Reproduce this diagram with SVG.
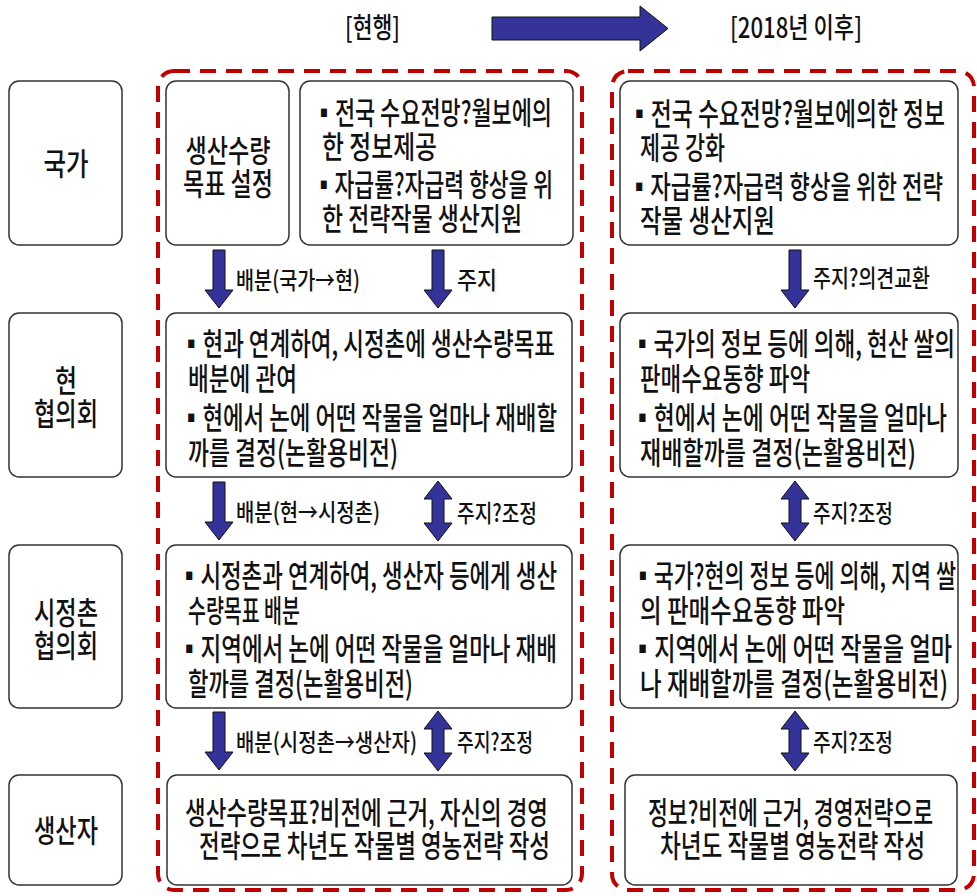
<svg xmlns="http://www.w3.org/2000/svg" width="977" height="896" viewBox="0 0 977 896">
<style>
text{font-family:"Noto Sans CJK KR","Noto Sans",sans-serif;fill:#111;font-weight:500}
.b{fill:#fff;stroke:#333;stroke-width:1.5}
.t{font-size:31px}
.lb{font-size:31px;text-anchor:middle}
.al{font-size:24px}
.ti{font-size:28px}
.grp{fill:none;stroke:#c00000;stroke-width:4;stroke-dasharray:16 10}
.ar{fill:#333399;stroke:#111;stroke-width:1}
</style>
<rect width="977" height="896" fill="#fff"/>
<g id="titles">
<text class="ti" x="345" y="38" textLength="55" lengthAdjust="spacingAndGlyphs">[현행]</text>
<text class="ti" x="730" y="38" textLength="132" lengthAdjust="spacingAndGlyphs">[2018년 이후]</text>
<path class="ar" d="M492 17 H640 V6 L668 28.5 L640 51 V40 H492 Z"/>
</g>
<rect class="grp" x="158" y="71" width="424" height="819" rx="16"/>
<rect class="grp" x="612" y="71" width="362" height="819" rx="16"/>
<g id="label-nation"><rect class="b" x="9" y="81" width="113" height="164" rx="10"/><text class="lb" x="66" y="175" textLength="45" lengthAdjust="spacingAndGlyphs">국가</text></g>
<g id="label-prefecture"><rect class="b" x="9" y="313" width="113" height="164" rx="10"/><text class="lb" x="66" y="392" textLength="22" lengthAdjust="spacingAndGlyphs">현</text><text class="lb" x="66" y="425" textLength="64" lengthAdjust="spacingAndGlyphs">협의회</text></g>
<g id="label-municipal"><rect class="b" x="9" y="545" width="113" height="163" rx="10"/><text class="lb" x="66" y="624" textLength="64" lengthAdjust="spacingAndGlyphs">시정촌</text><text class="lb" x="66" y="657" textLength="64" lengthAdjust="spacingAndGlyphs">협의회</text></g>
<g id="label-producer"><rect class="b" x="9" y="775" width="113" height="110" rx="10"/><text class="lb" x="66" y="842" textLength="64" lengthAdjust="spacingAndGlyphs">생산자</text></g>
<g id="target"><rect class="b" x="166" y="81" width="123" height="164" rx="10"/><text class="lb" x="228" y="162" textLength="85" lengthAdjust="spacingAndGlyphs">생산수량</text><text class="lb" x="228" y="195" textLength="90" lengthAdjust="spacingAndGlyphs">목표 설정</text></g>
<g id="nation-now"><rect class="b" x="300" y="81" width="273" height="164" rx="10"/>
<text class="t" x="313" y="124" textLength="239" lengthAdjust="spacingAndGlyphs">▪전국 수요전망?월보에의</text>
<text class="t" x="322" y="158" textLength="115" lengthAdjust="spacingAndGlyphs">한 정보제공</text>
<text class="t" x="313" y="196" textLength="240" lengthAdjust="spacingAndGlyphs">▪자급률?자급력 향상을 위</text>
<text class="t" x="322" y="230" textLength="200" lengthAdjust="spacingAndGlyphs">한 전략작물 생산지원</text></g>
<g id="nation-2018"><rect class="b" x="620" y="81" width="338" height="164" rx="10"/>
<text class="t" x="628" y="125" textLength="317" lengthAdjust="spacingAndGlyphs">▪전국 수요전망?월보에의한 정보</text>
<text class="t" x="640" y="159" textLength="85" lengthAdjust="spacingAndGlyphs">제공 강화</text>
<text class="t" x="628" y="198" textLength="315" lengthAdjust="spacingAndGlyphs">▪자급률?자급력 향상을 위한 전략</text>
<text class="t" x="640" y="232" textLength="135" lengthAdjust="spacingAndGlyphs">작물 생산지원</text></g>
<g id="pref-now"><rect class="b" x="166" y="313" width="406" height="164" rx="10"/>
<text class="t" x="180" y="355" textLength="375" lengthAdjust="spacingAndGlyphs">▪현과 연계하여, 시정촌에 생산수량목표</text>
<text class="t" x="188" y="390" textLength="109" lengthAdjust="spacingAndGlyphs">배분에 관여</text>
<text class="t" x="180" y="429" textLength="377" lengthAdjust="spacingAndGlyphs">▪현에서 논에 어떤 작물을 얼마나 재배할</text>
<text class="t" x="188" y="464" textLength="210" lengthAdjust="spacingAndGlyphs">까를 결정(논활용비전)</text></g>
<g id="pref-2018"><rect class="b" x="620" y="313" width="338" height="164" rx="10"/>
<text class="t" x="631" y="355" textLength="324" lengthAdjust="spacingAndGlyphs">▪국가의 정보 등에 의해, 현산 쌀의</text>
<text class="t" x="640" y="390" textLength="170" lengthAdjust="spacingAndGlyphs">판매수요동향 파악</text>
<text class="t" x="631" y="429" textLength="316" lengthAdjust="spacingAndGlyphs">▪현에서 논에 어떤 작물을 얼마나</text>
<text class="t" x="640" y="464" textLength="276" lengthAdjust="spacingAndGlyphs">재배할까를 결정(논활용비전)</text></g>
<g id="muni-now"><rect class="b" x="166" y="545" width="406" height="163" rx="10"/>
<text class="t" x="178" y="587" textLength="379" lengthAdjust="spacingAndGlyphs">▪시정촌과 연계하여, 생산자 등에게 생산</text>
<text class="t" x="188" y="622" textLength="112" lengthAdjust="spacingAndGlyphs">수량목표 배분</text>
<text class="t" x="178" y="660" textLength="379" lengthAdjust="spacingAndGlyphs">▪지역에서 논에 어떤 작물을 얼마나 재배</text>
<text class="t" x="188" y="695" textLength="225" lengthAdjust="spacingAndGlyphs">할까를 결정(논활용비전)</text></g>
<g id="muni-2018"><rect class="b" x="620" y="545" width="338" height="163" rx="10"/>
<text class="t" x="632" y="587" textLength="324" lengthAdjust="spacingAndGlyphs">▪국가?현의 정보 등에 의해, 지역 쌀</text>
<text class="t" x="640" y="622" textLength="205" lengthAdjust="spacingAndGlyphs">의 판매수요동향 파악</text>
<text class="t" x="631" y="660" textLength="321" lengthAdjust="spacingAndGlyphs">▪지역에서 논에 어떤 작물을 얼마</text>
<text class="t" x="640" y="695" textLength="308" lengthAdjust="spacingAndGlyphs">나 재배할까를 결정(논활용비전)</text></g>
<g id="prod-now"><rect class="b" x="167" y="775" width="405" height="110" rx="10"/>
<text class="t" x="185" y="824" textLength="363" lengthAdjust="spacingAndGlyphs">생산수량목표?비전에 근거, 자신의 경영</text>
<text class="t" x="199" y="857" textLength="351" lengthAdjust="spacingAndGlyphs">전략으로 차년도 작물별 영농전략 작성</text></g>
<g id="prod-2018"><rect class="b" x="625" y="775" width="332" height="110" rx="10"/>
<text class="t" x="648" y="824" textLength="285" lengthAdjust="spacingAndGlyphs">정보?비전에 근거, 경영전략으로</text>
<text class="t" x="660" y="857" textLength="265" lengthAdjust="spacingAndGlyphs">차년도 작물별 영농전략 작성</text></g>
<g id="connectors">
<path class="ar" d="M213 250 H225 V290 H233 L219 308 L205 290 H213 Z"/>
<path class="ar" d="M432 250 H444 V290 H452 L438 308 L424 290 H432 Z"/>
<path class="ar" d="M789 250 H801 V290 H809 L795 308 L781 290 H789 Z"/>
<path class="ar" d="M213 482 H225 V522 H233 L219 540 L205 522 H213 Z"/>
<path class="ar" d="M438 481 L452 499 H444 V523 H452 L438 541 L424 523 H432 V499 H424 Z"/>
<path class="ar" d="M795 481 L809 499 H801 V523 H809 L795 541 L781 523 H789 V499 H781 Z"/>
<path class="ar" d="M213 712 H225 V752 H233 L219 770 L205 752 H213 Z"/>
<path class="ar" d="M438 711 L452 729 H444 V753 H452 L438 771 L424 753 H432 V729 H424 Z"/>
<path class="ar" d="M795 711 L809 729 H801 V753 H809 L795 771 L781 753 H789 V729 H781 Z"/>
<text class="al" x="236" y="289" textLength="124" lengthAdjust="spacingAndGlyphs">배분(국가→현)</text>
<text class="al" x="457" y="289" textLength="40" lengthAdjust="spacingAndGlyphs">주지</text>
<text class="al" x="813" y="287" textLength="117" lengthAdjust="spacingAndGlyphs">주지?의견교환</text>
<text class="al" x="236" y="521" textLength="144" lengthAdjust="spacingAndGlyphs">배분(현→시정촌)</text>
<text class="al" x="457" y="522" textLength="80" lengthAdjust="spacingAndGlyphs">주지?조정</text>
<text class="al" x="813" y="522" textLength="80" lengthAdjust="spacingAndGlyphs">주지?조정</text>
<text class="al" x="236" y="751" textLength="181" lengthAdjust="spacingAndGlyphs">배분(시정촌→생산자)</text>
<text class="al" x="457" y="751" textLength="76" lengthAdjust="spacingAndGlyphs">주지?조정</text>
<text class="al" x="813" y="751" textLength="80" lengthAdjust="spacingAndGlyphs">주지?조정</text>
</g>
</svg>
